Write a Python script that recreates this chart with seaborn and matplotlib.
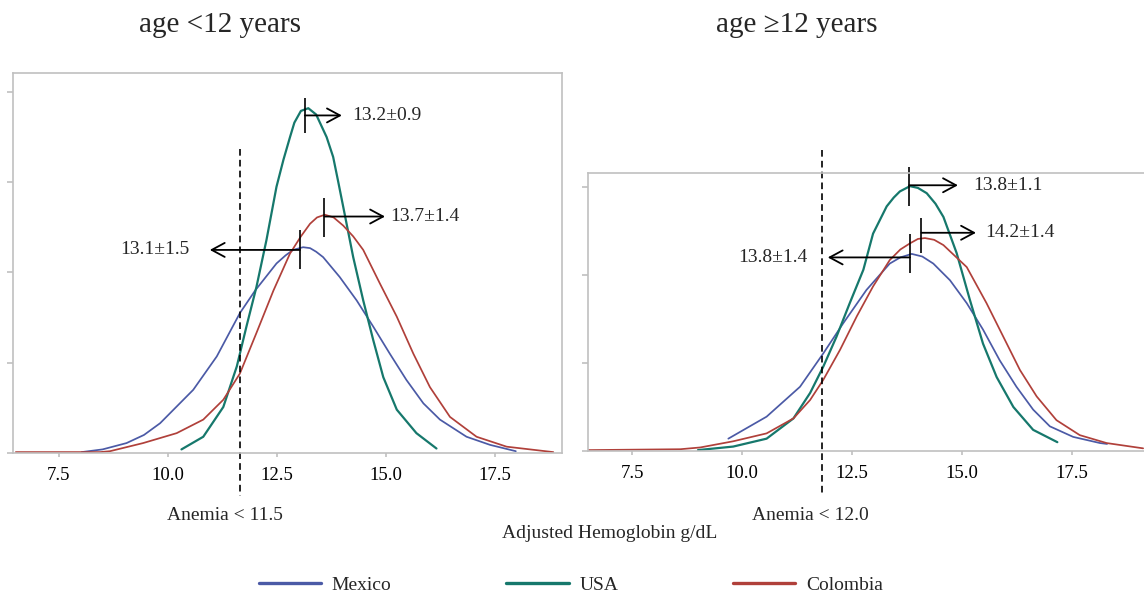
import matplotlib
matplotlib.use("Agg")
import pandas as pd
import matplotlib.pyplot as plt
import seaborn as sns

# ----------------------------
# Data (density in arbitrary units)
# ----------------------------
countries = ["Mexico", "USA", "Colombia"]
colors = {"Mexico": "#4b5aa6", "USA": "#16786c", "Colombia": "#b0403a"}

# age < 12 years
mex_young_x = [8.02, 8.50, 9.05, 9.45, 9.82, 10.58, 11.12, 11.65, 12.00, 12.49, 12.70, 12.87, 13.10,
               13.26, 13.40, 13.56, 13.94, 14.33, 14.71, 15.09, 15.47, 15.86, 16.24, 16.85, 17.39, 17.98]
mex_young_y = [0.01, 0.04, 0.11, 0.20, 0.33, 0.70, 1.07, 1.55, 1.80, 2.10, 2.19, 2.25, 2.28,
               2.27, 2.23, 2.17, 1.95, 1.69, 1.40, 1.10, 0.81, 0.55, 0.37, 0.18, 0.09, 0.02]
usa_young_x = [10.31, 10.81, 11.27, 11.58, 11.80, 12.03, 12.26, 12.49, 12.65, 12.80, 12.90, 13.05,
               13.22, 13.40, 13.64, 13.79, 13.90, 14.02, 14.25, 14.48, 14.71, 14.94, 15.25, 15.70, 16.16]
usa_young_y = [0.04, 0.18, 0.51, 0.96, 1.40, 1.84, 2.36, 2.95, 3.25, 3.50, 3.66, 3.79,
               3.82, 3.75, 3.50, 3.28, 3.02, 2.73, 2.17, 1.69, 1.25, 0.84, 0.48, 0.22, 0.05]
col_young_x = [6.51, 8.44, 8.67, 9.43, 10.20, 10.81, 11.27, 11.65, 12.03, 12.42, 12.80, 13.05, 13.26,
               13.42, 13.60, 13.80, 14.02, 14.25, 14.48, 14.86, 15.25, 15.63, 16.01, 16.47, 17.08,
               17.77, 18.84]
col_young_y = [0.01, 0.01, 0.02, 0.11, 0.22, 0.37, 0.59, 0.88, 1.33, 1.80, 2.21, 2.40, 2.54,
               2.61, 2.64, 2.61, 2.52, 2.40, 2.25, 1.88, 1.51, 1.10, 0.73, 0.40, 0.18,
               0.07, 0.01]

# age >= 12 years
mex_old_x = [9.69, 10.56, 11.32, 11.85, 12.30, 12.83, 13.36, 13.60, 13.86, 14.10, 14.35, 14.73,
             15.11, 15.48, 15.86, 16.24, 16.62, 17.00, 17.53, 18.14, 18.30]
mex_old_y = [0.14, 0.39, 0.73, 1.11, 1.45, 1.83, 2.13, 2.20, 2.24, 2.21, 2.13, 1.94,
             1.68, 1.38, 1.03, 0.73, 0.47, 0.28, 0.16, 0.09, 0.08]
usa_old_x = [9.00, 9.80, 10.56, 11.17, 11.55, 11.85, 12.15, 12.45, 12.76, 12.98, 13.29, 13.45,
             13.59, 13.82, 14.00, 14.20, 14.40, 14.58, 14.88, 15.18, 15.48, 15.79, 16.17, 16.62, 17.17]
usa_old_y = [0.01, 0.05, 0.14, 0.37, 0.66, 0.96, 1.30, 1.68, 2.06, 2.47, 2.78, 2.88,
             2.95, 3.01, 2.99, 2.93, 2.81, 2.66, 2.25, 1.72, 1.22, 0.84, 0.50, 0.24, 0.10]
col_old_x = [6.50, 8.60, 9.05, 9.80, 10.56, 11.17, 11.55, 11.85, 12.23, 12.61, 12.98, 13.36, 13.60,
             13.82, 14.00, 14.16, 14.37, 14.58, 15.11, 15.56, 15.94, 16.32, 16.70, 17.15, 17.68,
             18.29, 19.12]
col_old_y = [0.01, 0.02, 0.04, 0.11, 0.20, 0.37, 0.58, 0.81, 1.15, 1.53, 1.87, 2.17, 2.29,
             2.36, 2.41, 2.42, 2.40, 2.34, 2.09, 1.68, 1.30, 0.92, 0.62, 0.35, 0.18,
             0.09, 0.03]

# mean markers and labels (Mexico, USA, Colombia)
young_means = [13.03, 13.14, 13.59]
young_labels = ["13.1±1.5", "13.2±0.9", "13.7±1.4"]
old_means = [13.82, 13.80, 14.08]
old_labels = ["13.8±1.4", "13.8±1.1", "14.2±1.4"]

# anemia cut-off lines
young_cutoff = 11.65
old_cutoff = 11.82
young_cutoff_label = "Anemia < 11.5"
old_cutoff_label = "Anemia < 12.0"

xtick_values = [7.5, 10.0, 12.5, 15.0, 17.5]
xtick_labels = ["7.5", "10.0", "12.5", "15.0", "17.5"]


def long_table(xs, ys):
    parts = []
    for c, x, y in zip(countries, xs, ys):
        parts.append(pd.DataFrame({"hb": x, "density": y, "country": c}))
    return pd.concat(parts, ignore_index=True)


young = long_table([mex_young_x, usa_young_x, col_young_x], [mex_young_y, usa_young_y, col_young_y])
old = long_table([mex_old_x, usa_old_x, col_old_x], [mex_old_y, usa_old_y, col_old_y])

# ----------------------------
# Figure
# ----------------------------
sns.set_style("white")
plt.rcParams["font.family"] = ["Liberation Serif", "DejaVu Serif"]
gray = "#c0c0c0"

fig = plt.figure(figsize=(11.44, 5.97), dpi=100)
ax1 = fig.add_axes([0.01136, 0.2412, 0.4799, 0.6365])
ax2 = fig.add_axes([0.514, 0.2446, 0.486, 0.4657])

panels = [
    (ax1, young, (6.445, 19.04), (0, 4.21), [0, 1, 2, 3, 4], young_cutoff, 3.37),
    (ax2, old, (6.5, 19.14), (0, 3.16), [0, 1, 2, 3], old_cutoff, 3.42),
]

for ax, df, xlim, ylim, yt, cut, cut_top in panels:
    for c in countries:
        sub = df[df.country == c]
        sns.lineplot(data=sub, x="hb", y="density", color=colors[c], ax=ax,
                     lw=1.6 if c == "USA" else 1.25, sort=False, estimator=None)
    ax.set_xlim(*xlim)
    ax.set_ylim(*ylim)
    ax.set_xticks(xtick_values)
    ax.set_xticklabels(xtick_labels, fontsize=13.5)
    ax.set_yticks(yt)
    ax.set_yticklabels([])
    ax.set_xlabel("")
    ax.set_ylabel("")
    ax.tick_params(axis="both", which="both", direction="out", color=gray, width=1.2)
    ax.tick_params(axis="x", length=3, pad=7, labelcolor="black")
    ax.tick_params(axis="y", length=4)
    ax.xaxis.set_ticks_position("bottom")
    ax.yaxis.set_ticks_position("left")
    for s in ax.spines.values():
        s.set_color(gray)
        s.set_linewidth(1.2)
    # dashed anemia cut-off line, running below the axis
    ax.plot([cut, cut], [cut_top, -0.48], color="black",
            ls=(0, (4, 2.5)), lw=1.2, clip_on=False)

ax2.spines["right"].set_visible(False)


def mark(ax, x, y0, y1, ya, xend, text, xtext, ha):
    ax.vlines(x, y0, y1, color="black", lw=1.2, clip_on=False)
    ax.annotate("", xy=(xend, ya), xytext=(x, ya),
                arrowprops=dict(arrowstyle="->,head_length=0.52,head_width=0.28",
                                mutation_scale=18, lw=1.3, color="black",
                                shrinkA=0, shrinkB=0))
    ax.text(xtext, ya, text, ha=ha, va="center", fontsize=14)


# age < 12: Mexico, USA, Colombia
mark(ax1, young_means[0], 2.04, 2.47, 2.25, 10.96, young_labels[0], 10.50, "right")
mark(ax1, young_means[1], 3.55, 3.93, 3.74, 13.99, young_labels[1], 14.22, "left")
mark(ax1, young_means[2], 2.39, 2.82, 2.62, 14.98, young_labels[2], 15.09, "left")
# age >= 12
mark(ax2, old_means[0], 2.02, 2.47, 2.20, 11.95, old_labels[0], 11.50, "right")
mark(ax2, old_means[1], 2.78, 3.23, 3.02, 14.91, old_labels[1], 15.25, "left")
mark(ax2, old_means[2], 2.25, 2.65, 2.48, 15.32, old_labels[2], 15.52, "left")

# titles and labels
fig.text(220 / 1144, 1 - 25 / 597, "age <12 years", ha="center", va="center", fontsize=21)
fig.text(797 / 1144, 1 - 25 / 597, "age \u226512 years", ha="center", va="center", fontsize=21)
fig.text(225 / 1144, 1 - 516 / 597, young_cutoff_label, ha="center", va="center", fontsize=14)
fig.text(810 / 1144, 1 - 516 / 597, old_cutoff_label, ha="center", va="center", fontsize=14)
fig.text(610 / 1144, 1 - 534 / 597, "Adjusted Hemoglobin g/dL", ha="center", va="center", fontsize=14)

handles = [plt.Line2D([], [], color=colors[c], lw=2.4) for c in countries]
fig.legend(handles, countries, loc="center", bbox_to_anchor=(0.499, 1 - 585 / 597),
           ncol=3, frameon=False, fontsize=14, handlelength=3.2, handletextpad=0.55,
           columnspacing=5.9)

fig.savefig("out.png", dpi=100)
